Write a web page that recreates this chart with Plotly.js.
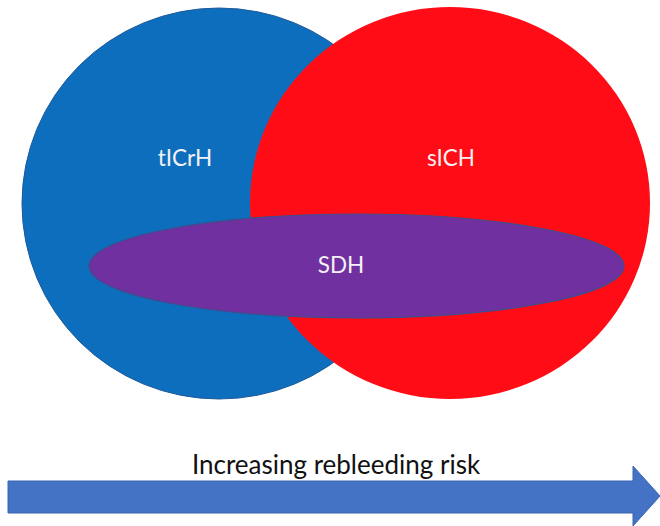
<!DOCTYPE html>
<html>
<head>
<meta charset="utf-8">
<script src="https://cdn.plot.ly/plotly-3.0.1.min.js"></script>
<style>html,body{margin:0;padding:0;background:#fff;}#chart{width:660px;height:526px;}</style>
</head>
<body>
<div id="chart"></div>
<script>
// Sets of the Venn diagram (extents in chart units, y grows downward)
const setNames   = ['tICrH', 'sICH', 'SDH'];
const setLeft    = [22, 250, 89];
const setRight   = [416, 650, 624];
const setTop     = [8, 7, 214];
const setBottom  = [399, 399, 318];
const labelX     = [185, 451, 341];
const labelY     = [160, 160, 267];
// Risk arrow
const arrowLabel = 'Increasing rebleeding risk';
const arrowStart = 8;
const arrowEnd   = 660;

const fills = ['#0E6EBE', '#FF0C16', '#7030A0'];
const lines = ['#1D5A9A', '#FF0C16', '#3E4E8E'];
const lineW = [1, 0, 1.2];

const shapes = setNames.map((n, i) => ({
  type: 'circle', xref: 'x', yref: 'y', layer: 'below',
  x0: setLeft[i], x1: setRight[i], y0: setTop[i], y1: setBottom[i],
  fillcolor: fills[i], line: {color: lines[i], width: lineW[i]}
}));

// arrow body 481-513, head 466-526
const headStart = arrowEnd - 27;
shapes.push({
  type: 'path', xref: 'x', yref: 'y', layer: 'below',
  path: `M${arrowStart},481 L${headStart},481 L${headStart},466 L${arrowEnd},496 L${headStart},526 L${headStart},513 L${arrowStart},513 Z`,
  fillcolor: '#4472C4', line: {color: '#3B65B0', width: 1}
});

const traces = [{
  type: 'scatter', mode: 'text', x: labelX, y: labelY, text: setNames,
  textposition: 'middle center', hoverinfo: 'skip',
  textfont: {family: 'Lato, "Open Sans", sans-serif', size: 22.5, color: '#F4F0F4'}
}, {
  type: 'scatter', mode: 'text', x: [336], y: [467], text: [arrowLabel],
  textposition: 'middle center', hoverinfo: 'skip',
  textfont: {family: 'Lato, "Open Sans", sans-serif', size: 26, color: '#111111'}
}];

const layout = {
  width: 660, height: 526,
  margin: {l: 0, r: 0, t: 0, b: 0},
  paper_bgcolor: '#ffffff', plot_bgcolor: '#ffffff',
  showlegend: false,
  xaxis: {range: [0, 660], visible: false, fixedrange: true},
  yaxis: {range: [526, 0], visible: false, fixedrange: true},
  shapes: shapes
};

Plotly.newPlot('chart', traces, layout, {displayModeBar: false, staticPlot: true});
</script>
</body>
</html>
